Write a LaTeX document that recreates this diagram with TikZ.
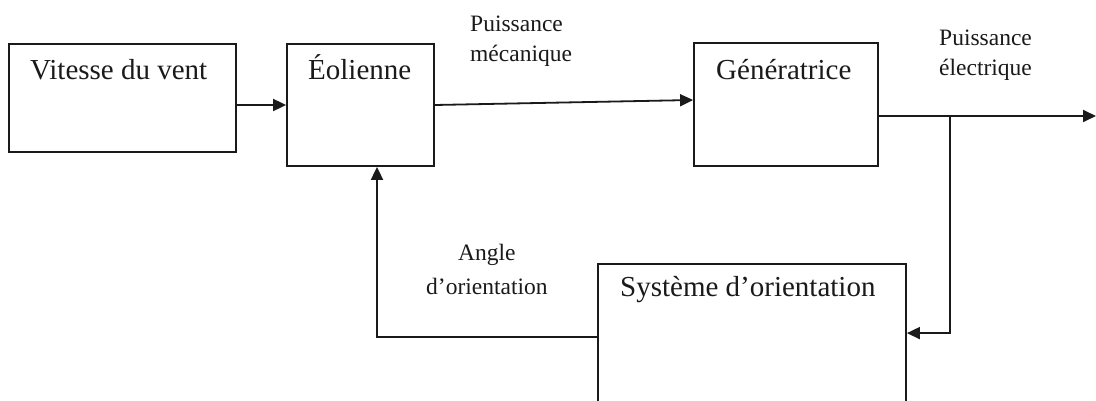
\documentclass[tikz,border=0pt]{standalone}
\usepackage{fontspec}
\setmainfont{Liberation Serif}
\usetikzlibrary{arrows.meta,calc}
\definecolor{ink}{HTML}{1A1A1A}
\begin{document}
\begin{tikzpicture}[x=1pt,y=-1pt,
  block/.style={draw=ink,line width=1.8pt,rectangle,inner sep=0pt,fill=white},
  boxtext/.style={anchor=base west,inner sep=0pt,text=ink,font=\fontsize{29}{34}\selectfont},
  flowlabel/.style={anchor=base west,inner sep=0pt,text=ink,font=\fontsize{23.5}{30}\selectfont},
  arr/.style={draw=ink,line width=1.8pt,-{Triangle[length=13pt,width=12pt]}},
  wire/.style={draw=ink,line width=1.8pt}]
\clip (0,0) rectangle (1096,401);
\fill[white] (0,0) rectangle (1096,401);

% blocks
\node[block,minimum width=227pt,minimum height=108pt] (vent) at (122.5,98) {};
\node[block,minimum width=147pt,minimum height=122pt] (eol) at (360.5,105) {};
\node[block,minimum width=184pt,minimum height=123pt] (gen) at (786,104.5) {};
\node[block,minimum width=308pt,minimum height=140pt] (sys) at (752,334) {};

% block titles
\node[boxtext] (ventT) at (30,80) {Vitesse du vent};
\node[boxtext] (eolT) at (308,80) {Éolienne};
\node[boxtext] (genT) at (716,80) {Génératrice};
\node[boxtext] (sysT) at (620,296) {Système d’orientation};

% signal labels
\node[flowlabel] (pmeca) at (470,32) {\begin{tabular}[t]{@{}l@{}}Puissance\\mécanique\end{tabular}};
\node[flowlabel] (pelec) at (939,46) {\begin{tabular}[t]{@{}l@{}}Puissance\\électrique\end{tabular}};
\node[flowlabel,font=\fontsize{23.5}{35}\selectfont] (angle) at (426,260) {\begin{tabular}[t]{@{}c@{}}Angle\\d’orientation\end{tabular}};

% connectors
\coordinate (br) at (950,116);
\coordinate (out) at (1096,116);
\draw[arr] (vent.east |- eol.west) -- (eol.west);
\draw[arr] (eol.east) -- ($(gen.west)+(0,-4.5)$);
\draw[wire] (gen.east |- br) -- (br);
\draw[arr] (br) -- (out);
\draw[arr] (br) |- ($(sys.north east)+(0,70)$);
\draw[arr] ($(sys.north west)+(0,74)$) -| ($(eol.south)+(16.5,0)$);
\end{tikzpicture}
\end{document}
